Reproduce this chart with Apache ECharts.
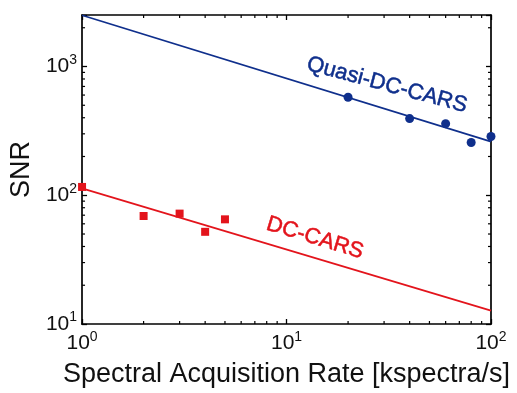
<!DOCTYPE html>
<html><head><meta charset="utf-8">
<script src="https://cdn.jsdelivr.net/npm/echarts@6/dist/echarts.min.js"></script>
<style>html,body{margin:0;padding:0;background:#fff}#c{width:517px;height:393px}</style>
</head><body><div id="c"></div>
<script>
// ---- data ----
const quasiRate = [20, 40, 60, 80, 100];
const quasiSNR = [577, 394, 360, 257, 286];
const dcRate = [1, 2, 3, 4, 5];
const dcSNR = [116, 69, 72, 52, 65];
const quasiFitRate = [1, 100];
const quasiFitSNR = [2500, 261];
const dcFitRate = [1, 100];
const dcFitSNR = [113, 12.7];
const xRange = [1, 100];
const yRange = [10, 2512];
const seriesNames = ['Quasi-DC-CARS', 'DC-CARS'];
const xTitle = 'Spectral Acquisition Rate [kspectra/s]';
const yTitle = 'SNR';

const FONT = '"Liberation Sans", Arial, Helvetica, sans-serif';
const BLUE = '#0f2f8c';
const RED = '#e3141c';
const zip = (a, b) => a.map((v, i) => [v, b[i]]);

function powLabel(v) {
  const l = Math.log10(v);
  const e = Math.round(l);
  if (Math.abs(l - e) > 1e-6) return '';
  return '{b|10}{s|' + e + '}';
}
const rich = {
  b: {fontSize: 21, fontFamily: FONT, color: '#111', lineHeight: 27},
  s: {fontSize: 14, fontFamily: FONT, color: '#111', lineHeight: 14, verticalAlign: 'top'}
};
function minorList(lo, hi) {
  const out = [];
  for (let d = Math.floor(Math.log10(lo)); d <= Math.ceil(Math.log10(hi)); d++) {
    for (let m = 2; m <= 9; m++) {
      const v = m * Math.pow(10, d);
      if (v > lo && v < hi) out.push(v);
    }
  }
  return out;
}
const axisLine = {lineStyle: {color: '#000', width: 1.7}};
const axisTick = {inside: true, length: 5, lineStyle: {color: '#000', width: 1.3}};

const chart = echarts.init(document.getElementById('c'), null, {renderer: 'canvas'});
chart.setOption({
  animation: false,
  backgroundColor: '#fff',
  grid: {left: 82, right: 26, top: 15, bottom: 66, containLabel: false},
  xAxis: [
    {type: 'log', logBase: 10, min: xRange[0], max: xRange[1], position: 'bottom',
     axisLine, axisTick, splitLine: {show: false}, minorTick: {show: false},
     axisLabel: {formatter: powLabel, rich, margin: 6, showMinLabel: true, showMaxLabel: true},
     name: xTitle, nameLocation: 'middle', nameGap: 37,
     nameTextStyle: {fontSize: 27, fontFamily: FONT, color: '#111'}},
    {type: 'log', logBase: 10, min: xRange[0], max: xRange[1], position: 'top',
     axisLine, axisTick, splitLine: {show: false}, axisLabel: {show: false}}
  ],
  yAxis: [
    {type: 'log', logBase: 10, min: yRange[0], max: yRange[1], position: 'left',
     axisLine, axisTick, splitLine: {show: false},
     axisLabel: {formatter: powLabel, rich, margin: 5},
     name: yTitle, nameLocation: 'middle', nameGap: 45,
     nameTextStyle: {fontSize: 27, fontFamily: FONT, color: '#111'}},
    {type: 'log', logBase: 10, min: yRange[0], max: yRange[1], position: 'right',
     axisLine, axisTick, splitLine: {show: false}, axisLabel: {show: false}}
  ],
  series: [
    {type: 'custom', xAxisIndex: 0, yAxisIndex: 0, silent: true, z: 1,
     data: [[xRange[0], yRange[0]]],
     renderItem: function (params, api) {
       const ch = [];
       const st = {stroke: '#000', lineWidth: 1.2};
       const L = 3;
       minorList(xRange[0], xRange[1]).forEach(v => {
         const b = api.coord([v, yRange[0]]);
         const t = api.coord([v, yRange[1]]);
         ch.push({type: 'line', shape: {x1: b[0], y1: b[1], x2: b[0], y2: b[1] - L}, style: st});
         ch.push({type: 'line', shape: {x1: t[0], y1: t[1], x2: t[0], y2: t[1] + L}, style: st});
       });
       minorList(yRange[0], yRange[1]).forEach(v => {
         const l = api.coord([xRange[0], v]);
         const r = api.coord([xRange[1], v]);
         ch.push({type: 'line', shape: {x1: l[0], y1: l[1], x2: l[0] + L, y2: l[1]}, style: st});
         ch.push({type: 'line', shape: {x1: r[0], y1: r[1], x2: r[0] - L, y2: r[1]}, style: st});
       });
       return {type: 'group', children: ch};
     }},
    {name: seriesNames[0] + ' fit', type: 'line', data: zip(quasiFitRate, quasiFitSNR),
     showSymbol: false, lineStyle: {color: BLUE, width: 1.7}, z: 3},
    {name: seriesNames[0], type: 'scatter', data: zip(quasiRate, quasiSNR),
     symbol: 'circle', symbolSize: 9, itemStyle: {color: BLUE, opacity: 1}, z: 4},
    {name: seriesNames[1] + ' fit', type: 'line', data: zip(dcFitRate, dcFitSNR),
     showSymbol: false, lineStyle: {color: RED, width: 1.7}, z: 3},
    {name: seriesNames[1], type: 'scatter', data: zip(dcRate, dcSNR),
     symbol: 'rect', symbolSize: 8, itemStyle: {color: RED, opacity: 1}, z: 4}
  ],
  graphic: [
    {type: 'text', x: 387, y: 85, rotation: -15 * Math.PI / 180,
     style: {text: seriesNames[0], fontSize: 22, fontFamily: FONT, fill: BLUE, stroke: BLUE, lineWidth: 0.5, align: 'center', verticalAlign: 'middle'}},
    {type: 'text', x: 315, y: 238, rotation: -17 * Math.PI / 180,
     style: {text: seriesNames[1], fontSize: 22, fontFamily: FONT, fill: RED, stroke: RED, lineWidth: 0.5, align: 'center', verticalAlign: 'middle'}}
  ]
});
</script>
</body></html>
